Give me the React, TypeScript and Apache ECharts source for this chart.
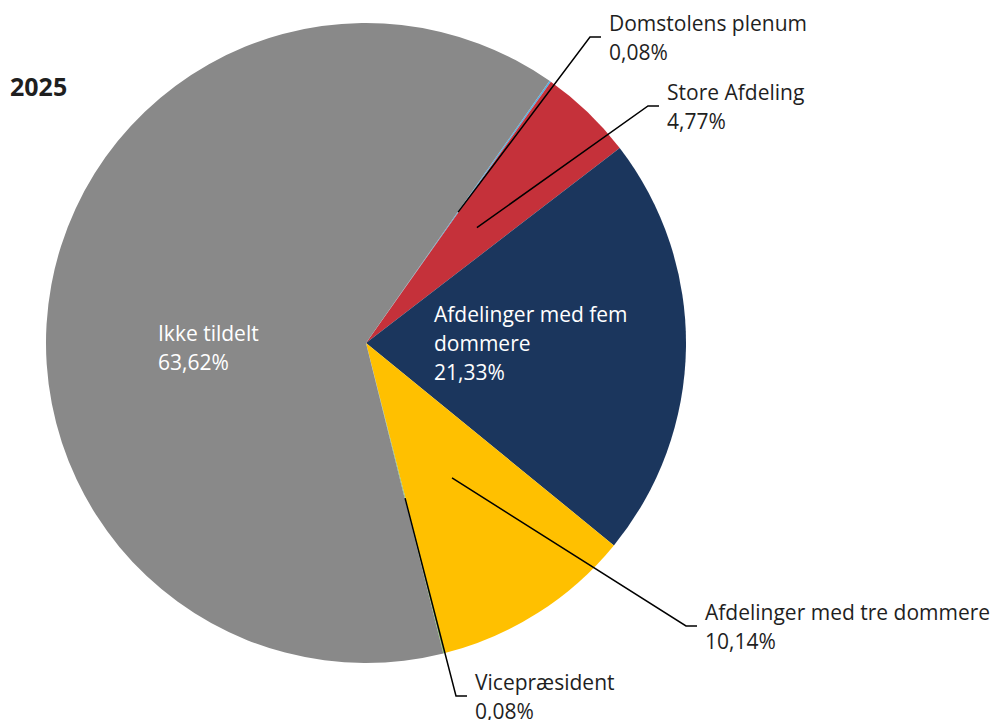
import React, { useEffect, useRef } from "react";
import * as echarts from "echarts";

const categories = [
  "Domstolens plenum",
  "Store Afdeling",
  "Afdelinger med fem dommere",
  "Afdelinger med tre dommere",
  "Vicepræsident",
  "Ikke tildelt",
];
const values = [0.08, 4.77, 21.33, 10.14, 0.08, 63.62];
const colors = ["#4FB3E8", "#C5313A", "#1B365D", "#FFC000", "#8CC36A", "#898989"];
const insideLabels = [false, false, true, false, false, true];
const title = "2025";

const FONT = "'Open Sans', 'Noto Sans', sans-serif";

// label anchor positions (left edge, vertical middle)
const labelPos: Record<number, [number, number]> = {
  0: [609, 37],
  1: [667, 106],
  2: [434, 343],
  3: [705, 626],
  4: [475, 696],
  5: [158, 347],
};

const fmt = (v: number) => v.toFixed(2).replace(".", ",") + "%";

export default function App() {
  const ref = useRef<HTMLDivElement>(null);
  useEffect(() => {
    document.body.style.margin = "0";
    const chart = echarts.init(ref.current!, null, { renderer: "svg" });
    const center = [366, 343];
    const startAngle = 55;

    const mainData = categories.map((name, i) => ({
      name,
      value: values[i],
      itemStyle: { color: colors[i] },
      label: insideLabels[i]
        ? {
            show: true,
            position: "inside",
            color: "#ffffff",
            fontFamily: FONT,
            fontSize: 21,
            lineHeight: 29,
            align: "left",
            verticalAlign: "middle",
            width: i === 2 ? 240 : undefined,
            overflow: i === 2 ? "break" : undefined,
            formatter: (p: any) => `${p.name}\n${fmt(p.value)}`,
          }
        : { show: false },
    }));

    const guideData = categories.map((name, i) => ({
      name,
      value: values[i],
      itemStyle: { color: "transparent" },
      label: !insideLabels[i]
        ? {
            show: true,
            position: "outside",
            color: "#1f1f1f",
            fontFamily: FONT,
            fontSize: 21,
            lineHeight: 29,
            align: "left",
            verticalAlign: "middle",
            formatter: (p: any) => `${p.name}\n${fmt(p.value)}`,
          }
        : { show: false },
      labelLine: { show: !insideLabels[i], length: 0, length2: 0 },
    }));

    const layoutFn = (params: any) => {
      const pos = labelPos[params.dataIndex];
      if (!pos) return {};
      const [x, y] = pos;
      const res: any = { x, y, align: "left", verticalAlign: "middle" };
      if (params.labelLinePoints && params.labelLinePoints.length) {
        const p0 = params.labelLinePoints[0];
        res.labelLinePoints = [
          [p0[0], p0[1]],
          [x - 19, y],
          [x - 8, y],
        ];
      }
      return res;
    };

    chart.setOption({
      animation: false,
      title: {
        text: title,
        left: 10,
        top: 73,
        padding: 0,
        textStyle: { fontFamily: FONT, fontSize: 25, fontWeight: "bold", color: "#1f1f1f" },
      },
      series: [
        {
          type: "pie",
          center,
          radius: 320,
          startAngle,
          clockwise: true,
          silent: true,
          avoidLabelOverlap: false,
          minAngle: 0,
          itemStyle: { borderWidth: 0 },
          labelLine: { show: false },
          data: mainData,
          labelLayout: layoutFn,
          z: 1,
        },
        {
          type: "pie",
          center,
          radius: 160,
          startAngle,
          clockwise: true,
          silent: true,
          avoidLabelOverlap: false,
          itemStyle: { borderWidth: 0 },
          labelLine: {
            show: true,
            length: 0,
            length2: 0,
            lineStyle: { color: "#000000", width: 1.5 },
          },
          data: guideData,
          labelLayout: layoutFn,
          z: 3,
        },
      ],
    });
    return () => chart.dispose();
  }, []);
  return <div ref={ref} style={{ width: 997, height: 720 }} />;
}
